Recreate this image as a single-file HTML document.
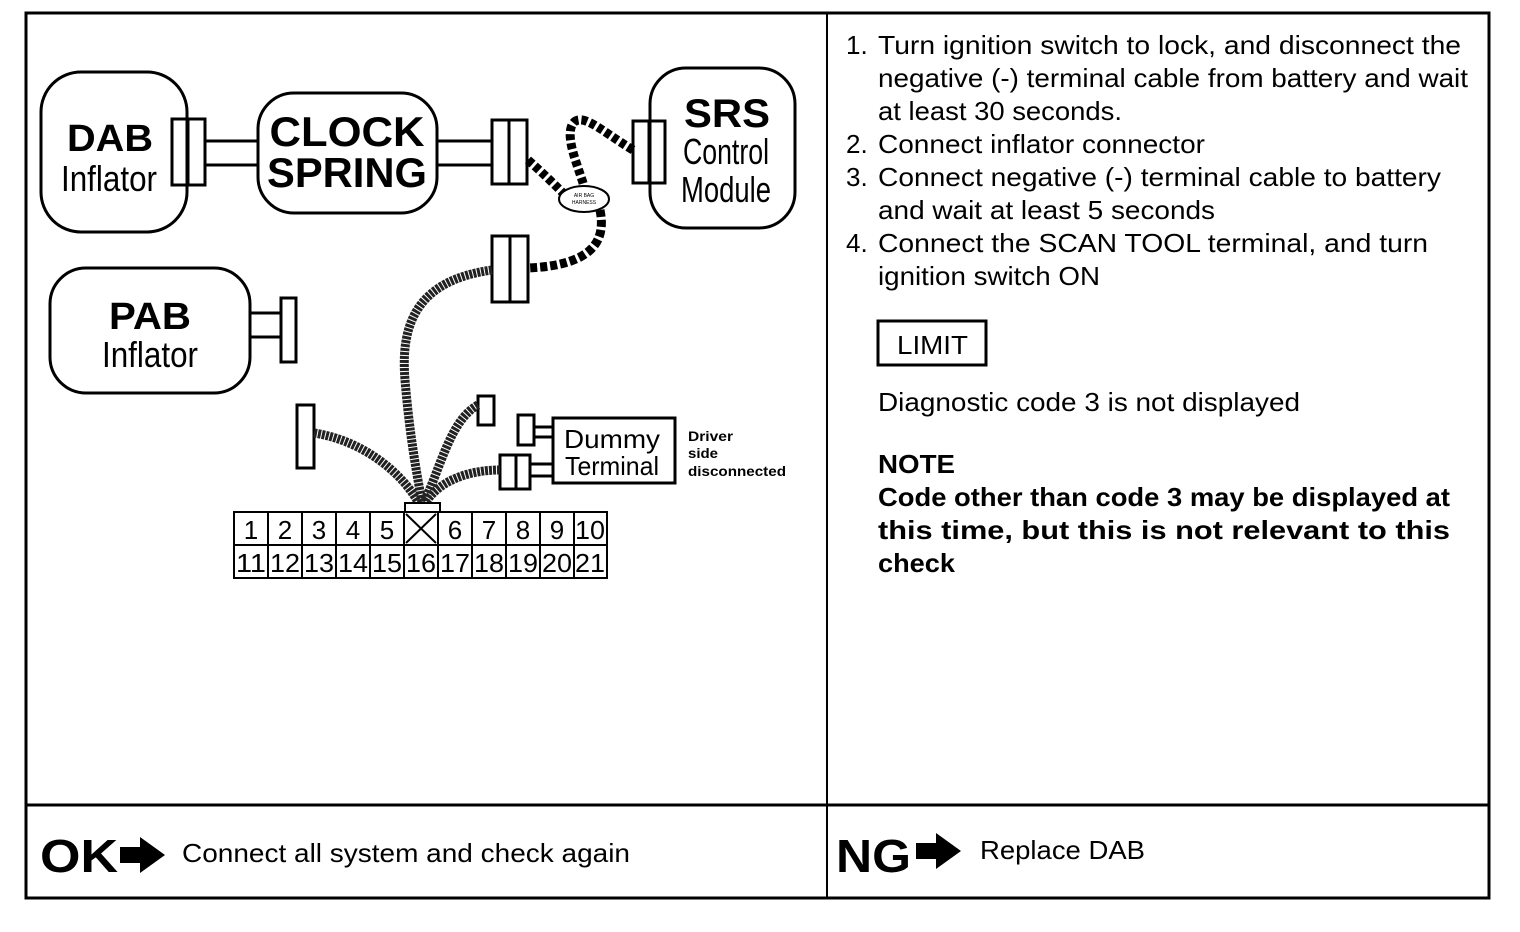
<!DOCTYPE html>
<html><head><meta charset="utf-8"><style>
html,body{margin:0;padding:0;background:#fff;width:1520px;height:932px;overflow:hidden}
svg{display:block}
text{font-family:"Liberation Sans",Arial,sans-serif;fill:#000}
</style></head><body>
<svg width="1520" height="932" viewBox="0 0 1520 932" xmlns="http://www.w3.org/2000/svg">
<rect x="26" y="13" width="1463" height="885" fill="none" stroke="#000" stroke-width="3"/>
<line x1="827" y1="13" x2="827" y2="898" stroke="#000" stroke-width="2"/>
<line x1="26" y1="805" x2="1489" y2="805" stroke="#000" stroke-width="3"/>

<g fill="none" stroke="#000" stroke-width="3">
<rect x="41" y="72" width="146" height="160" rx="40"/>
<rect x="172" y="119" width="33" height="66"/>
<line x1="188" y1="119" x2="188" y2="185"/>
<line x1="205" y1="141" x2="258" y2="141"/>
<line x1="205" y1="165" x2="258" y2="165"/>
<rect x="258" y="93" width="179" height="120" rx="36"/>
<line x1="437" y1="141" x2="492" y2="141"/>
<line x1="437" y1="165" x2="492" y2="165"/>
<rect x="492" y="120" width="35" height="64"/>
<line x1="509" y1="120" x2="509" y2="184"/>
<rect x="650" y="68" width="145" height="160" rx="36"/>
<rect x="633" y="121" width="32" height="62"/>
<line x1="649" y1="121" x2="649" y2="183"/>
<rect x="50" y="268" width="200" height="125" rx="36"/>
<line x1="250" y1="313" x2="282" y2="313"/>
<line x1="250" y1="337" x2="282" y2="337"/>
<rect x="281" y="298" width="15" height="64"/>
<rect x="492" y="236" width="36" height="66"/>
<line x1="510" y1="236" x2="510" y2="302"/>
<rect x="297" y="405" width="17" height="63"/>
<rect x="478" y="396" width="16" height="29"/>
<rect x="518" y="415" width="16" height="30"/>
<rect x="500" y="455" width="16" height="34"/>
<rect x="516" y="455" width="14" height="34"/>
<line x1="534" y1="427" x2="553" y2="427"/>
<line x1="534" y1="437" x2="553" y2="437"/>
<line x1="530" y1="464" x2="553" y2="464"/>
<line x1="530" y1="476" x2="553" y2="476"/>
<rect x="553" y="418" width="122" height="65"/>
</g>

<g fill="none" stroke="#000" stroke-linecap="butt">
<path d="M528 160 C 545 175, 555 185, 565 195" stroke-width="9" stroke-dasharray="6 3"/>
<path d="M633 150 C 600 130, 580 110, 572 125 C 565 140, 580 170, 585 190" stroke-width="9" stroke-dasharray="6 3"/>
<path d="M600 210 C 605 235, 600 265, 528 268" stroke-width="9" stroke-dasharray="7 3"/>
</g>
<ellipse cx="584" cy="199" rx="25" ry="13" fill="#fff" stroke="#000" stroke-width="2"/>
<text x="584" y="197" font-size="5" text-anchor="middle">AIR BAG</text>
<text x="584" y="204" font-size="5" text-anchor="middle">HARNESS</text>

<g fill="none" stroke="#222" stroke-width="9" stroke-dasharray="3 1">
<path d="M492 270 C 420 280, 400 320, 405 380 C 410 440, 418 480, 422 502"/>
<path d="M314 433 C 360 440, 400 470, 418 502"/>
<path d="M478 405 C 450 420, 440 470, 424 502"/>
<path d="M500 470 C 470 470, 440 480, 426 502"/>
</g>

<rect x="405" y="503" width="35" height="9" fill="#fff" stroke="#000" stroke-width="2"/>
<g fill="none" stroke="#000" stroke-width="2">
<rect x="234" y="512" width="373" height="66"/>
<line x1="234" y1="545" x2="607" y2="545"/>
<line x1="268" y1="512" x2="268" y2="578"/><line x1="302" y1="512" x2="302" y2="578"/>
<line x1="336" y1="512" x2="336" y2="578"/><line x1="370" y1="512" x2="370" y2="578"/>
<line x1="404" y1="512" x2="404" y2="578"/><line x1="438" y1="512" x2="438" y2="578"/>
<line x1="472" y1="512" x2="472" y2="578"/><line x1="506" y1="512" x2="506" y2="578"/>
<line x1="540" y1="512" x2="540" y2="578"/><line x1="574" y1="512" x2="574" y2="578"/>
<line x1="406" y1="514" x2="436" y2="543"/><line x1="436" y1="514" x2="406" y2="543"/>
</g>
<g font-size="26" text-anchor="middle">
<text x="251" y="539">1</text><text x="285" y="539">2</text><text x="319" y="539">3</text><text x="353" y="539">4</text><text x="387" y="539">5</text>
<text x="455" y="539">6</text><text x="489" y="539">7</text><text x="523" y="539">8</text><text x="557" y="539">9</text><text x="590" y="539" textLength="30" lengthAdjust="spacingAndGlyphs">10</text>
<g lengthAdjust="spacingAndGlyphs">
<text x="251" y="572" textLength="30" lengthAdjust="spacingAndGlyphs">11</text><text x="285" y="572" textLength="30" lengthAdjust="spacingAndGlyphs">12</text><text x="319" y="572" textLength="30" lengthAdjust="spacingAndGlyphs">13</text><text x="353" y="572" textLength="30" lengthAdjust="spacingAndGlyphs">14</text><text x="387" y="572" textLength="30" lengthAdjust="spacingAndGlyphs">15</text><text x="421" y="572" textLength="30" lengthAdjust="spacingAndGlyphs">16</text><text x="455" y="572" textLength="30" lengthAdjust="spacingAndGlyphs">17</text><text x="489" y="572" textLength="30" lengthAdjust="spacingAndGlyphs">18</text><text x="523" y="572" textLength="30" lengthAdjust="spacingAndGlyphs">19</text><text x="557" y="572" textLength="30" lengthAdjust="spacingAndGlyphs">20</text><text x="590" y="572" textLength="30" lengthAdjust="spacingAndGlyphs">21</text>
</g>
</g>

<text x="110" y="151" font-size="38" font-weight="bold" text-anchor="middle" textLength="86" lengthAdjust="spacingAndGlyphs">DAB</text>
<text x="109" y="191" font-size="36" text-anchor="middle" textLength="96" lengthAdjust="spacingAndGlyphs">Inflator</text>
<text x="347" y="146" font-size="42" font-weight="bold" text-anchor="middle" textLength="155" lengthAdjust="spacingAndGlyphs">CLOCK</text>
<text x="347" y="187" font-size="42" font-weight="bold" text-anchor="middle" textLength="160" lengthAdjust="spacingAndGlyphs">SPRING</text>
<text x="727" y="127" font-size="40" font-weight="bold" text-anchor="middle" textLength="86" lengthAdjust="spacingAndGlyphs">SRS</text>
<text x="726" y="164" font-size="36" text-anchor="middle" textLength="86" lengthAdjust="spacingAndGlyphs">Control</text>
<text x="726" y="202" font-size="36" text-anchor="middle" textLength="90" lengthAdjust="spacingAndGlyphs">Module</text>
<text x="150" y="329" font-size="38" font-weight="bold" text-anchor="middle" textLength="82" lengthAdjust="spacingAndGlyphs">PAB</text>
<text x="150" y="367" font-size="36" text-anchor="middle" textLength="96" lengthAdjust="spacingAndGlyphs">Inflator</text>
<text x="612" y="448" font-size="26" text-anchor="middle" textLength="96" lengthAdjust="spacingAndGlyphs">Dummy</text>
<text x="612" y="475" font-size="26" text-anchor="middle" textLength="94" lengthAdjust="spacingAndGlyphs">Terminal</text>
<text x="688" y="441" font-size="14" font-weight="bold" textLength="45" lengthAdjust="spacingAndGlyphs">Driver</text>
<text x="688" y="458" font-size="14" font-weight="bold" textLength="30" lengthAdjust="spacingAndGlyphs">side</text>
<text x="688" y="476" font-size="14" font-weight="bold" textLength="98" lengthAdjust="spacingAndGlyphs">disconnected</text>

<g font-size="26">
<text x="846" y="54">1.</text><text x="878" y="54" textLength="583" lengthAdjust="spacingAndGlyphs">Turn ignition switch to lock, and disconnect the</text>
<text x="878" y="87" textLength="590" lengthAdjust="spacingAndGlyphs">negative (-) terminal cable from battery and wait</text>
<text x="878" y="120" textLength="244" lengthAdjust="spacingAndGlyphs">at least 30 seconds.</text>
<text x="846" y="153">2.</text><text x="878" y="153" textLength="327" lengthAdjust="spacingAndGlyphs">Connect inflator connector</text>
<text x="846" y="186">3.</text><text x="878" y="186" textLength="563" lengthAdjust="spacingAndGlyphs">Connect negative (-) terminal cable to battery</text>
<text x="878" y="219" textLength="337" lengthAdjust="spacingAndGlyphs">and wait at least 5 seconds</text>
<text x="846" y="252">4.</text><text x="878" y="252" textLength="550" lengthAdjust="spacingAndGlyphs">Connect the SCAN TOOL terminal, and turn</text>
<text x="878" y="285" textLength="222" lengthAdjust="spacingAndGlyphs">ignition switch ON</text>
<text x="897" y="354" textLength="71" lengthAdjust="spacingAndGlyphs">LIMIT</text>
<text x="878" y="411" textLength="422" lengthAdjust="spacingAndGlyphs">Diagnostic code 3 is not displayed</text>
<text x="878" y="473" font-weight="bold" textLength="77" lengthAdjust="spacingAndGlyphs">NOTE</text>
<text x="878" y="506" font-weight="bold" textLength="572" lengthAdjust="spacingAndGlyphs">Code other than code 3 may be displayed at</text>
<text x="878" y="539" font-weight="bold" textLength="572" lengthAdjust="spacingAndGlyphs">this time, but this is not relevant to this</text>
<text x="878" y="572" font-weight="bold" textLength="77" lengthAdjust="spacingAndGlyphs">check</text>
</g>
<rect x="878" y="321" width="108" height="44" fill="none" stroke="#000" stroke-width="3"/>

<text x="40" y="872" font-size="46" font-weight="bold" textLength="78" lengthAdjust="spacingAndGlyphs">OK</text>
<path d="M120 847 h20 v-10 l25 18 l-25 18 v-10 h-20 z" fill="#000"/>
<text x="182" y="862" font-size="26" textLength="448" lengthAdjust="spacingAndGlyphs">Connect all system and check again</text>
<text x="836" y="872" font-size="46" font-weight="bold" textLength="75" lengthAdjust="spacingAndGlyphs">NG</text>
<path d="M916 843 h20 v-10 l25 18 l-25 18 v-10 h-20 z" fill="#000"/>
<text x="980" y="859" font-size="26" textLength="165" lengthAdjust="spacingAndGlyphs">Replace DAB</text>
</svg>
</body></html>
